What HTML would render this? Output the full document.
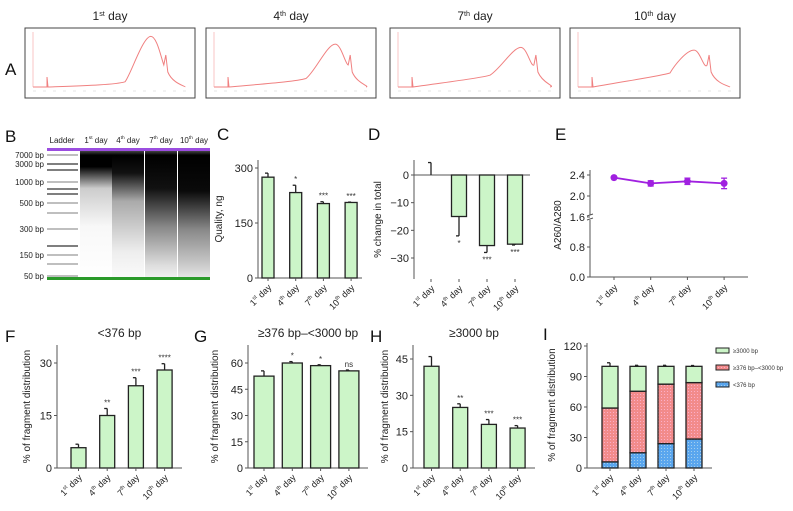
<!DOCTYPE html>
<html><head><meta charset="utf-8">
<style>
html,body{margin:0;padding:0;background:#fff;}
svg{display:block;font-family:"Liberation Sans",sans-serif;}
</style></head>
<body>
<svg id="fig" width="793" height="511" viewBox="0 0 793 511" xmlns="http://www.w3.org/2000/svg">
<defs>
<linearGradient id="g1" x1="0" y1="0" x2="0" y2="1"><stop offset="0" stop-color="#555"/><stop offset="0.04" stop-color="#000"/><stop offset="0.13" stop-color="#000"/><stop offset="0.3" stop-color="#ccc"/><stop offset="0.6" stop-color="#f8f8f8"/><stop offset="1" stop-color="#fff"/></linearGradient>
<linearGradient id="g2" x1="0" y1="0" x2="0" y2="1"><stop offset="0" stop-color="#555"/><stop offset="0.04" stop-color="#000"/><stop offset="0.18" stop-color="#111"/><stop offset="0.4" stop-color="#aaa"/><stop offset="0.8" stop-color="#eee"/><stop offset="1" stop-color="#fafafa"/></linearGradient>
<linearGradient id="g3" x1="0" y1="0" x2="0" y2="1"><stop offset="0" stop-color="#555"/><stop offset="0.04" stop-color="#000"/><stop offset="0.3" stop-color="#111"/><stop offset="0.6" stop-color="#888"/><stop offset="0.9" stop-color="#ddd"/><stop offset="1" stop-color="#f2f2f2"/></linearGradient>
<linearGradient id="g4" x1="0" y1="0" x2="0" y2="1"><stop offset="0" stop-color="#555"/><stop offset="0.04" stop-color="#000"/><stop offset="0.32" stop-color="#0a0a0a"/><stop offset="0.62" stop-color="#888"/><stop offset="0.92" stop-color="#d0d0d0"/><stop offset="1" stop-color="#e8e8e8"/></linearGradient>
<pattern id="dotR" width="3" height="3" patternUnits="userSpaceOnUse"><rect width="3" height="3" fill="#f28b8b"/><circle cx="1.5" cy="1.5" r="0.5" fill="#fbd"/></pattern>
<pattern id="dotB" width="3" height="3" patternUnits="userSpaceOnUse"><rect width="3" height="3" fill="#5aa6ee"/><circle cx="1.5" cy="1.5" r="0.5" fill="#bde"/></pattern>
</defs>
<g id="root"></g>
</svg>
<script>
// ---- data ----
var days = ["1", "4", "7", "10"];
var daySup = ["st", "th", "th", "th"];
var qualityVals = [275, 233, 203, 206];
var qualityErr = [286, 253, 208, 207];
var qualityStars = ["", "*", "***", "***"];
var qualityTicks = [0, 150, 300];
var changeVals = [0, -15, -25.5, -25];
var changeErr = [4.5, -22, -28, -25.3];
var changeStars = ["", "*", "***", "***"];
var changeTicks = [0, -10, -20, -30];
var ratioVals = [2.35, 2.24, 2.28, 2.24];
var ratioErr = [0.02, 0.05, 0.06, 0.1];
var ratioTicks = [0.0, 0.8, 1.6, 2.0, 2.4];
var smallVals = [5.8, 15, 23.5, 28];
var smallErr = [6.8, 17, 25.8, 29.8];
var smallStars = ["", "**", "***", "****"];
var smallTicks = [0, 15, 30];
var midVals = [52.5, 60, 58.5, 55.5];
var midErr = [55.5, 60.8, 59, 56];
var midStars = ["", "*", "*", "ns"];
var midTicks = [0, 15, 30, 45, 60];
var largeVals = [42, 25, 18, 16.5];
var largeErr = [46, 26.5, 20, 17.5];
var largeStars = ["", "**", "***", "***"];
var largeTicks = [0, 15, 30, 45];
var stackBlue = [6, 15, 24, 28.5];
var stackRed = [53, 60.5, 58.5, 55.5];
var stackGreen = [41, 24.5, 17.5, 16];
var stackErrTop = [3.5, 1, 1, 0.8];
var stackTicks = [0, 30, 60, 90, 120];
var legendLabels = ["\u22653000 bp", "\u2265376 bp\u2013<3000 bp", "<376 bp"];
var ladderLabels = ["7000 bp", "3000 bp", "1000 bp", "500 bp", "300 bp", "150 bp", "50 bp"];

var NS = "http://www.w3.org/2000/svg";
var root = document.getElementById("root");
function el(tag, attrs, parent, text) {
  var e = document.createElementNS(NS, tag);
  for (var k in attrs) e.setAttribute(k, attrs[k]);
  if (text !== undefined) e.textContent = text;
  (parent || root).appendChild(e);
  return e;
}
function dayLabel(parent, x, y, i, rotate, fs) {
  var t = el("text", {x: x, y: y, "font-size": fs || 9, fill: "#222", "text-anchor": rotate ? "end" : "middle", transform: rotate ? "rotate(-45 " + x + " " + y + ")" : ""}, parent);
  
  
  var a = document.createElementNS(NS, "tspan"); a.textContent = days[i]; t.appendChild(a);
  var b = document.createElementNS(NS, "tspan"); b.textContent = daySup[i]; b.setAttribute("font-size", (fs || 9) * 0.6); b.setAttribute("dy", -4); t.appendChild(b);
  var c = document.createElementNS(NS, "tspan"); c.textContent = " day"; c.setAttribute("dy", 4); t.appendChild(c);
  return t;
}
function letter(t, x, y) {
  var e = el("text", {x: x, y: y, "font-size": 17, fill: "#111"}, root, t);
  
  
}
function yTitle(g, t, x, y) {
  var e = el("text", {x: x, y: y, "font-size": 10, fill: "#222", "text-anchor": "middle", transform: "rotate(-90 " + x + " " + y + ")"}, g, t);
  
  
}

// ---- Panel A: electropherograms ----
letter("A", 5, 75);
var aBoxes = [25, 206, 390, 570];
var aW = 170;
var aPeak = [[0.74, 0.92], [0.76, 0.78], [0.77, 0.72], [0.73, 0.67]];
var aBase = [0.04, 0.1, 0.16, 0.2];
aBoxes.forEach(function (bx, i) {
  var g = el("g", {});  
  dayLabel(g, bx + aW / 2, 20, i, false, 12);
  el("rect", {x: bx, y: 28, width: aW, height: 70, fill: "#fff", stroke: "#444", "stroke-width": 1}, g);
  var y0 = 87, H = 55;
  var px = bx + aW * aPeak[i][0], py = y0 - H * aPeak[i][1];
  var spikeX = bx + 22;
  var bl = aBase[i] * H;
  var d = "M" + (bx + 8) + " " + y0 + " L" + spikeX + " " + y0 + " L" + spikeX + " " + (y0 - 10) + " L" + (spikeX + 1) + " " + y0 +
    " C" + (bx + 60) + " " + (y0 - bl * 0.6) + " " + (bx + 90) + " " + (y0 - bl) + " " + (bx + 100) + " " + (y0 - bl - 3) +
    " C" + (px - 20) + " " + (y0 - bl - 10) + " " + (px - 8) + " " + py + " " + px + " " + py +
    " C" + (px + 6) + " " + py + " " + (px + 10) + " " + (py + 20) + " " + (px + 13) + " " + (y0 - 22) +
    " L" + (px + 15) + " " + (y0 - 32) + " L" + (px + 17) + " " + (y0 - 15) +
    " C" + (px + 22) + " " + (y0 - 3) + " " + (px + 35) + " " + (y0 - 1) + " " + (bx + aW - 10) + " " + y0;
  el("path", {d: d, fill: "none", stroke: "#f08080", "stroke-width": 1}, g);
  el("line", {x1: bx + 8, y1: 32, x2: bx + 8, y2: y0, stroke: "#f4a0a0", "stroke-width": 0.6}, g);
  el("line", {x1: bx + 8, y1: 91, x2: bx + aW - 8, y2: 91, stroke: "#ccc", "stroke-width": 0.5, "stroke-dasharray": "3 7"}, g);
});

// ---- Panel B: gel ----
letter("B", 5, 142);
(function () {
  var g = el("g", {});  
  var t = el("text", {x: 62, y: 143, "font-size": 8, "text-anchor": "middle", fill: "#222"}, g, "Ladder");
   
  var lanes = [80, 112, 145, 178];
  lanes.forEach(function (lx, i) {
    el("rect", {x: lx, y: 150, width: 32, height: 128, fill: "url(#g" + (i + 1) + ")"}, g);
    dayLabel(g, lx + 16, 143, i, false, 8);
  });
  el("rect", {x: 47, y: 148, width: 163, height: 3, fill: "#9b4de0"}, g);
  el("rect", {x: 47, y: 277, width: 163, height: 3, fill: "#2a9a2a"}, g);
  var bands = [155, 164, 170, 182, 189, 194, 203, 213, 229, 246, 255, 264, 276];
  var dark = [0, 1, 1, 0, 1, 1, 0, 0, 0, 1, 0, 0, 0];
  bands.forEach(function (by, i) {
    el("line", {x1: 47, y1: by, x2: 78, y2: by, stroke: dark[i] ? "#333" : "#999", "stroke-width": 1.2}, g);
  });
  var labY = [155, 164, 182, 203, 229, 255, 276];
  ladderLabels.forEach(function (l, i) {
    el("text", {x: 44, y: labY[i] + 3, "font-size": 8, "text-anchor": "end", fill: "#222"}, g, l);
  });
})();

// ---- generic bar chart ----
function barChart(o) {
  var g = el("g", {});  
  function y(v) { return o.y0 + (v - o.vmin) / (o.vmax - o.vmin) * (o.y1 - o.y0); }
  el("line", {x1: o.ax, y1: o.top, x2: o.ax, y2: o.bottom, stroke: "#555", "stroke-width": 1}, g);
  var baseY = y(o.base || 0);
  el("line", {x1: o.ax, y1: baseY, x2: o.axEnd, y2: baseY, stroke: "#555", "stroke-width": 1}, g);
  o.ticks.forEach(function (tv) {
    var ty = y(tv);
    el("line", {x1: o.ax - 3, y1: ty, x2: o.ax, y2: ty, stroke: "#555"}, g);
    var t = el("text", {x: o.ax - 5, y: ty + 4, "font-size": 11, "text-anchor": "end", fill: "#222"}, g, (tv < 0 ? "\u2212" + (-tv) : String(tv)));
     
  });
  o.vals.forEach(function (v, i) {
    var cx = o.x0 + i * o.step;
    var yb = y(v), yz = baseY;
    if (v !== 0) {
      var r = el("rect", {x: cx - o.bw / 2, y: Math.min(yb, yz), width: o.bw, height: Math.abs(yb - yz), fill: "#ccf5c8", stroke: "#222", "stroke-width": 1.3}, g);
      
      
    }
    var ye = y(o.err[i]);
    el("line", {x1: cx, y1: yb, x2: cx, y2: ye, stroke: "#222", "stroke-width": 1.3}, g);
    el("line", {x1: cx - 3, y1: ye, x2: cx, y2: ye, stroke: "#222", "stroke-width": 1.3}, g);
    if (o.stars && o.stars[i]) {
      var sy = o.err[i] < (o.base || 0) ? ye + 10 : ye - 3;
      var s = el("text", {x: cx, y: sy, "font-size": 8, "text-anchor": "middle", fill: "#333"}, g, o.stars[i]);
       
    }
    el("line", {x1: cx, y1: o.bottom, x2: cx, y2: o.bottom + 3, stroke: "#555"}, g);
    dayLabel(g, cx + 4, o.bottom + 10, i, true, 9);
  });
  yTitle(g, o.ytitle, o.ytx, (o.top + o.bottom) / 2);
  if (o.title) {
    var tt = el("text", {x: (o.ax + o.axEnd) / 2, y: o.top - 8, "font-size": 12, "text-anchor": "middle", fill: "#222"}, g, o.title);
     
  }
}

letter("C", 217, 140);
barChart({name: "chart-quality", ax: 258, axEnd: 362, top: 160, bottom: 278, y0: 278, y1: 168, vmin: 0, vmax: 300,
  ticks: qualityTicks, vals: qualityVals, err: qualityErr, stars: qualityStars, x0: 268, step: 27.7, bw: 12, ytitle: "Quality, ng", ytx: 222});

letter("D", 368, 140);
barChart({name: "chart-percent-change", ax: 414, axEnd: 530, top: 160, bottom: 279, y0: 175, y1: 258, vmin: 0, vmax: -30, base: 0,
  ticks: changeTicks, vals: changeVals, err: changeErr, stars: changeStars, x0: 431, step: 28, bw: 15, ytitle: "% change in total", ytx: 381});

// ---- Panel E ----
letter("E", 555, 140);
(function () {
  var g = el("g", {});  
  function y(v) { return v >= 1.6 ? 217 - (v - 1.6) * 52.5 : 277 - v * 37.5; }
  var ax = 590;
  el("line", {x1: ax, y1: 170, x2: ax, y2: 215, stroke: "#555"}, g);
  el("line", {x1: ax, y1: 220, x2: ax, y2: 277, stroke: "#555"}, g);
  el("path", {d: "M587 216 L593 214 M587 220 L593 218", stroke: "#555", fill: "none"}, g);
  el("line", {x1: ax, y1: 277, x2: 748, y2: 277, stroke: "#555"}, g);
  ratioTicks.forEach(function (tv) {
    var ty = y(tv);
    el("line", {x1: ax - 3, y1: ty, x2: ax, y2: ty, stroke: "#555"}, g);
    var t = el("text", {x: ax - 5, y: ty + 4, "font-size": 11, "text-anchor": "end", fill: "#222"}, g, tv.toFixed(1));
     
  });
  var pts = ratioVals.map(function (v, i) { return [614 + i * 36.7, y(v)]; });
  el("polyline", {points: pts.map(function (p) { return p.join(","); }).join(" "), fill: "none", stroke: "#a020e0", "stroke-width": 1.8}, g);
  pts.forEach(function (p, i) {
    var e1 = y(ratioVals[i] + ratioErr[i]), e2 = y(ratioVals[i] - ratioErr[i]);
    el("line", {x1: p[0], y1: e1, x2: p[0], y2: e2, stroke: "#a020e0", "stroke-width": 1.3}, g);
    el("line", {x1: p[0] - 3, y1: e1, x2: p[0] + 3, y2: e1, stroke: "#a020e0", "stroke-width": 1.3}, g);
    el("line", {x1: p[0] - 3, y1: e2, x2: p[0] + 3, y2: e2, stroke: "#a020e0", "stroke-width": 1.3}, g);
    var c = el("circle", {cx: p[0], cy: p[1], r: 3.5, fill: "#a020e0"}, g);
    
    
    el("line", {x1: p[0], y1: 277, x2: p[0], y2: 280, stroke: "#555"}, g);
    dayLabel(g, p[0] + 4, 288, i, true, 9);
  });
  yTitle(g, "A260/A280", 561, 225);
})();

letter("F", 5, 342);
barChart({name: "chart-small-fragments", title: "<376 bp", ax: 57, axEnd: 182, top: 345, bottom: 468, y0: 468, y1: 363, vmin: 0, vmax: 30,
  ticks: smallTicks, vals: smallVals, err: smallErr, stars: smallStars, x0: 78.5, step: 28.7, bw: 15, ytitle: "% of fragment distribution", ytx: 30});

letter("G", 194, 342);
barChart({name: "chart-mid-fragments", title: "\u2265376 bp\u2013<3000 bp", ax: 248, axEnd: 368, top: 345, bottom: 468, y0: 468, y1: 363, vmin: 0, vmax: 60,
  ticks: midTicks, vals: midVals, err: midErr, stars: midStars, x0: 264, step: 28.3, bw: 20, ytitle: "% of fragment distribution", ytx: 218});

letter("H", 370, 342);
barChart({name: "chart-large-fragments", title: "\u22653000 bp", ax: 413, axEnd: 535, top: 345, bottom: 468, y0: 468, y1: 359, vmin: 0, vmax: 45,
  ticks: largeTicks, vals: largeVals, err: largeErr, stars: largeStars, x0: 431.5, step: 28.7, bw: 15, ytitle: "% of fragment distribution", ytx: 388});

// ---- Panel I: stacked ----
letter("I", 543, 340);
(function () {
  var g = el("g", {});  
  function y(v) { return 468 - v / 120 * 122; }
  var ax = 587;
  el("line", {x1: ax, y1: 343, x2: ax, y2: 468, stroke: "#555"}, g);
  el("line", {x1: ax, y1: 468, x2: 712, y2: 468, stroke: "#555"}, g);
  stackTicks.forEach(function (tv) {
    var ty = y(tv);
    el("line", {x1: ax - 3, y1: ty, x2: ax, y2: ty, stroke: "#555"}, g);
    var t = el("text", {x: ax - 5, y: ty + 4, "font-size": 11, "text-anchor": "end", fill: "#222"}, g, String(tv));
     
  });
  var fills = ["url(#dotB)", "url(#dotR)", "#ccf5c8"];
  var segNames = ["small", "mid", "large"];
  days.forEach(function (d, i) {
    var cx = 610 + i * 28, bw = 16;
    var segs = [stackBlue[i], stackRed[i], stackGreen[i]];
    var acc = 0;
    segs.forEach(function (s, k) {
      var r = el("rect", {x: cx - bw / 2, y: y(acc + s), width: bw, height: y(acc) - y(acc + s), fill: fills[k], stroke: "#222", "stroke-width": 1.3}, g);
      
      
      acc += s;
      var et = y(acc + (k === 2 ? stackErrTop[i] : 1));
      el("line", {x1: cx, y1: y(acc), x2: cx, y2: et, stroke: "#222", "stroke-width": 1.3}, g);
      el("line", {x1: cx - 3, y1: et, x2: cx, y2: et, stroke: "#222", "stroke-width": 1.3}, g);
    });
    el("line", {x1: cx, y1: 468, x2: cx, y2: 471, stroke: "#555"}, g);
    dayLabel(g, cx + 4, 478, i, true, 9);
  });
  yTitle(g, "% of fragment distribution", 555, 405);
  var lf = ["#ccf5c8", "url(#dotR)", "url(#dotB)"];
  legendLabels.forEach(function (l, k) {
    var ly = 351 + k * 17;
    var r = el("rect", {x: 716, y: ly - 3, width: 13, height: 5, fill: lf[k], stroke: "#222", "stroke-width": 1}, g);
    
    
    var t = el("text", {x: 733, y: ly + 2, "font-size": 6, fill: "#333"}, g, l);
    
    
  });
})();
</script>
</body></html>
